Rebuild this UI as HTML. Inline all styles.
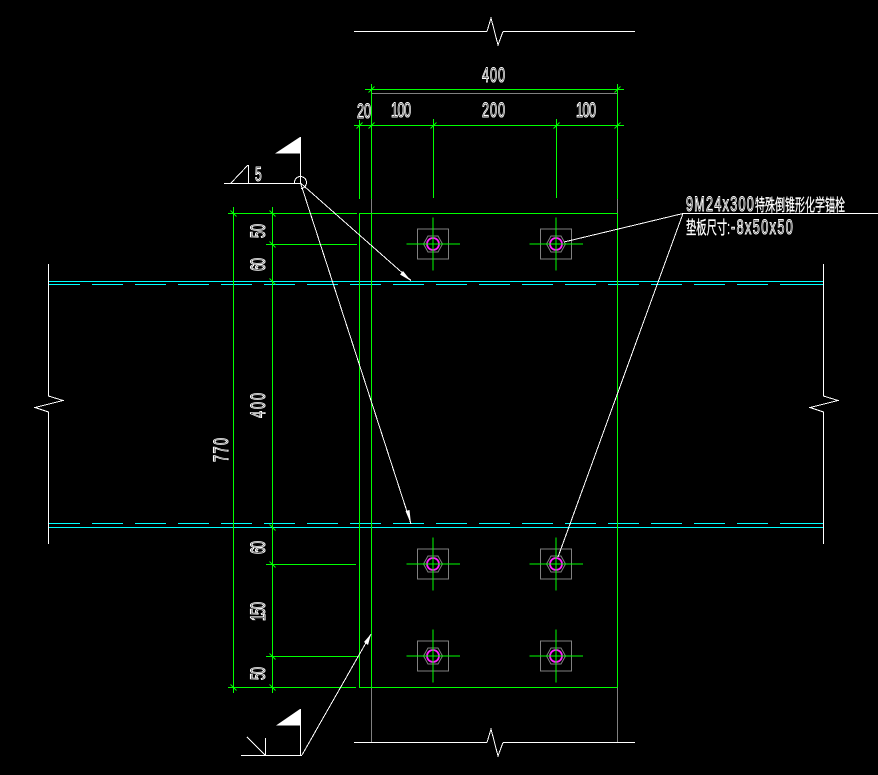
<!DOCTYPE html>
<html><head><meta charset="utf-8"><style>
html,body{margin:0;padding:0;background:#000;width:878px;height:775px;overflow:hidden}
svg{display:block}
text{font-family:"Liberation Sans","Noto Sans CJK SC",sans-serif;fill:none;stroke:#fff;stroke-width:.9;vector-effect:non-scaling-stroke}
text.c{fill:#fff;stroke-width:.3}
</style></head><body>
<svg width="878" height="775" viewBox="0 0 878 775" xmlns="http://www.w3.org/2000/svg">
<rect width="878" height="775" fill="#000"/>
<defs>
<g id="b">
<rect x="-15.5" y="-15" width="31" height="30" fill="none" stroke="#808080"/>
<polygon points="-9.5,0 -5,-8 5,-8 9.5,0 5,8 -5,8" fill="none" stroke="#808080"/>
<circle r="6" fill="none" stroke="#ff20ff" stroke-width="1.8"/>
<path d="M-26.5 0H27M0 -26.5V26.5" stroke="#00ff00" fill="none" shape-rendering="crispEdges"/>
</g>
<path id="t" d="M-3 3L3 -3" stroke="#00ff00" fill="none"/>
</defs>

<!-- gray -->
<g stroke="#808080" fill="none" shape-rendering="crispEdges">
<path d="M371.5 93.5H617.5M371.5 199V213M617.5 199V213M371.5 687V742M617.5 687V742"/>
</g>

<!-- cyan -->
<g stroke="#00ffff" fill="none" shape-rendering="crispEdges">
<path d="M48 281.5H823M48 527.5H823"/>
<path d="M49 284.5H780M49 523.5H780" stroke-dasharray="31 12"/>
<path d="M780 284.5H823M780 523.5H823"/>
</g>

<!-- green -->
<g stroke="#00ff00" fill="none" shape-rendering="crispEdges">
<path d="M365 89.5H624M354 125.5H624"/>
<path d="M359.5 120V199M371.5 84V199M433.5 119V198M556.5 119V198M617.5 84V199"/>
<path d="M359.5 213V687M371.5 213V687M617.5 213V687"/>
<path d="M359 213.5H617.5M359 687.5H617.5"/>
<path d="M228 213.5H357M266 244.5H357M266 564.5H356M266 656.5H358M228 687.5H356"/>
<path d="M233.5 207V693M272.5 207V693"/>
</g>
<g>
<use href="#t" x="359.5" y="125.5"/><use href="#t" x="371.5" y="125.5"/><use href="#t" x="433.5" y="125.5"/><use href="#t" x="556.5" y="125.5"/><use href="#t" x="617.5" y="125.5"/>
<use href="#t" x="371.5" y="89.5"/><use href="#t" x="617.5" y="89.5"/>
</g>
<g stroke="#00ff00" fill="none">
<path d="M230.5 210.5l6 6M269.5 210.5l6 6M269.5 241.5l6 6M269.5 278.5l6 6M269.5 524.5l6 6M269.5 561.5l6 6M269.5 653.5l6 6M269.5 684.5l6 6M230.5 684.5l6 6"/>
</g>

<!-- bolts -->
<use href="#b" x="433" y="244"/>
<use href="#b" x="556" y="244"/>
<use href="#b" x="433" y="564"/>
<use href="#b" x="556" y="564"/>
<use href="#b" x="433" y="656"/>
<use href="#b" x="556" y="656"/>

<!-- white linework -->
<g stroke="#fff" fill="none" stroke-width="1" shape-rendering="crispEdges">
<path d="M354 31.5H487M503 31.5H635M354 742.5H487M503 742.5H635"/>
<path d="M487 31.5L491 18L498 45L503 31.5M487 742.5L491 729L498 756L503 742.5"/>
<path d="M48.5 264V396L63 400.5L35 407.5L48.5 412V544"/>
<path d="M823.5 264V396L838 400.5L810 407.5L823.5 412V544"/>
<!-- top flag -->
<path d="M224 183.5H300M300.5 137V183M248.5 165V183"/>
<path d="M231 183L248 165"/>
<path d="M294.5 183A6 6 0 1 1 301 188.5"/>
<path d="M300.5 183L411 280.5"/>
<path d="M300.5 183L411 524"/>
<!-- bottom flag -->
<path d="M241 755.5H302M300.5 709V755M265.5 738V755"/>
<path d="M247 737L265 755"/>
<path d="M302 755L371 634"/>
<!-- right leader -->
<path d="M683 213.5H878"/>
<path d="M683 213.5L564 242M683 213.5L558 557"/>
</g>
<g fill="#fff" stroke="none">
<polygon points="275,153.5 300,137 300,153.5"/>
<polygon points="276,725.5 300,709 300,725.5"/>
<polygon points="411,281 400,274.5 403,271"/>
<polygon points="411,524 405.5,511 409.5,510"/>
<polygon points="371,634 364,642 368,645"/>
</g>

<!-- text -->
<text transform="translate(482 82) scale(.6 1)" font-size="21" textLength="38.3" lengthAdjust="spacing">400</text>
<text transform="translate(357 118) scale(.6 1)" font-size="21" textLength="23.3" lengthAdjust="spacing">20</text>
<text transform="translate(391 117) scale(.6 1)" font-size="21" textLength="33.3" lengthAdjust="spacing">100</text>
<text transform="translate(482 117) scale(.6 1)" font-size="21" textLength="38.3" lengthAdjust="spacing">200</text>
<text transform="translate(576 117) scale(.6 1)" font-size="21" textLength="33.3" lengthAdjust="spacing">100</text>
<text transform="translate(255 181) scale(.6 1)" font-size="20">5</text>
<text transform="translate(265 238) rotate(-90) scale(.6 1)" font-size="21" textLength="23.3" lengthAdjust="spacing">50</text>
<text transform="translate(265 271) rotate(-90) scale(.6 1)" font-size="21" textLength="21.7" lengthAdjust="spacing">60</text>
<text transform="translate(265 418) rotate(-90) scale(.6 1)" font-size="21" textLength="41.7" lengthAdjust="spacing">400</text>
<text transform="translate(228 462) rotate(-90) scale(.6 1)" font-size="21" textLength="40" lengthAdjust="spacing">770</text>
<text transform="translate(265 554) rotate(-90) scale(.6 1)" font-size="21" textLength="21.7" lengthAdjust="spacing">60</text>
<text transform="translate(265 621) rotate(-90) scale(.6 1)" font-size="21" textLength="31.7" lengthAdjust="spacing">150</text>
<text transform="translate(265 680) rotate(-90) scale(.6 1)" font-size="21" textLength="21.7" lengthAdjust="spacing">50</text>
<text transform="translate(686 211) scale(.6 1)" font-size="21" textLength="113" lengthAdjust="spacing">9M24x300</text>
<text class="c" x="755" y="211" font-size="17" textLength="90" lengthAdjust="spacingAndGlyphs">特殊倒锥形化学锚栓</text>
<text class="c" x="686" y="234" font-size="18" textLength="44" lengthAdjust="spacingAndGlyphs">垫板尺寸:</text>
<text transform="translate(731 234) scale(.6 1)" font-size="21" textLength="103" lengthAdjust="spacing">-8x50x50</text>
</svg>
</body></html>
